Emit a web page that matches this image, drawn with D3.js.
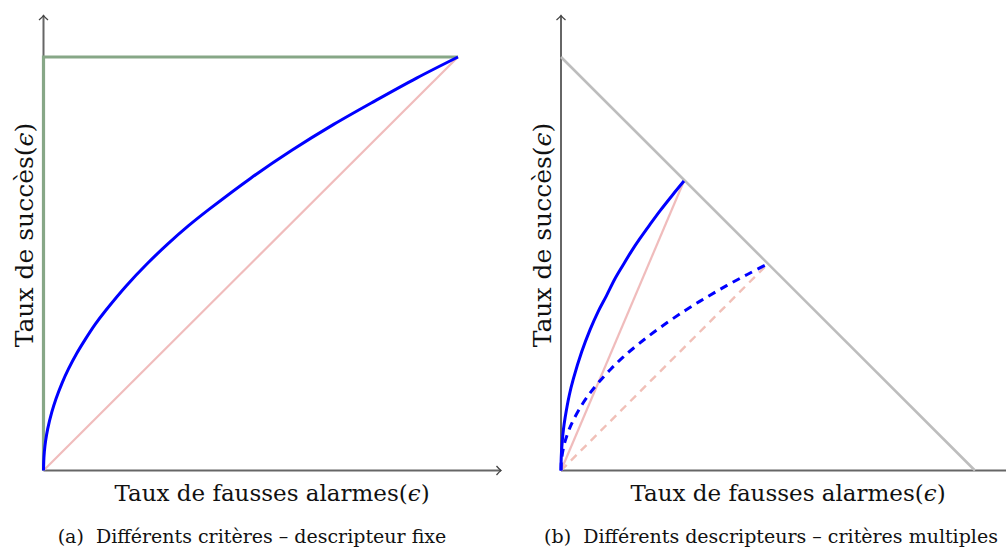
<!DOCTYPE html>
<html><head><meta charset="utf-8">
<script src="https://cdn.jsdelivr.net/npm/d3@7"></script>
<style>
html,body{margin:0;padding:0;background:#fff;}
svg text{font-family:"DejaVu Serif","Liberation Serif",serif;fill:#111;}
</style></head>
<body><svg id="c" width="1006" height="551"></svg>
<script>
// ---- data ----
// Panel (a): different criteria, fixed descriptor
const leftFpr = [0, 0.0005, 0.002, 0.005, 0.01, 0.02, 0.03, 0.045, 0.06, 0.08, 0.1, 0.125, 0.15, 0.2, 0.25, 0.3, 0.35, 0.4, 0.5, 0.6, 0.7, 0.8, 0.9, 1];
const leftTpr = [0, 0.022, 0.045, 0.071, 0.1, 0.141, 0.173, 0.212, 0.245, 0.283, 0.316, 0.354, 0.387, 0.447, 0.5, 0.548, 0.592, 0.632, 0.707, 0.775, 0.837, 0.894, 0.949, 1];
const idealFpr = [0, 0, 1];
const idealTpr = [0, 1, 1];
const chanceFpr = [0, 1];
const chanceTpr = [0, 1];
// Panel (b): different descriptors, multiple criteria
const solidFpr = [0, 0.0003, 0.001, 0.003, 0.006, 0.01, 0.02, 0.03, 0.05, 0.07, 0.09, 0.11, 0.13, 0.15, 0.17, 0.19, 0.215, 0.24, 0.27, 0.297];
const solidTpr = [0, 0.022, 0.041, 0.07, 0.1, 0.128, 0.182, 0.222, 0.287, 0.34, 0.385, 0.423, 0.463, 0.497, 0.53, 0.56, 0.595, 0.629, 0.667, 0.70];
const dashedFpr = [0, 0.0005, 0.002, 0.005, 0.01, 0.02, 0.03, 0.05, 0.07, 0.09, 0.12, 0.15, 0.19, 0.24, 0.3, 0.35, 0.4, 0.45, 0.5];
const dashedTpr = [0, 0.016, 0.032, 0.05, 0.071, 0.1, 0.122, 0.158, 0.187, 0.212, 0.245, 0.274, 0.308, 0.346, 0.387, 0.418, 0.447, 0.474, 0.5];
const boundFpr = [0, 1];
const boundTpr = [1, 0];
const solidChanceFpr = [0, 0.297];
const solidChanceTpr = [0, 0.70];
const dashedChanceFpr = [0, 0.5];
const dashedChanceTpr = [0, 0.5];
const xLabel = "Taux de fausses alarmes";
const yLabel = "Taux de succès";
const captions = ["(a)  Différents critères – descripteur fixe", "(b)  Différents descripteurs – critères multiples"];

const svg = d3.select("#c");
const zip = (xs, ys) => xs.map((x, i) => [x, ys[i]]);

const defs = svg.append("defs");
defs.append("marker").attr("id","arr").attr("viewBox","-6 -6 8 12")
  .attr("markerWidth",8).attr("markerHeight",12).attr("markerUnits","userSpaceOnUse")
  .attr("refX",0).attr("refY",0).attr("orient","auto")
  .append("path").attr("d","M-4.5,-4.5 Q-1.5,-1 0,0 Q-1.5,1 -4.5,4.5")
  .attr("fill","none").attr("stroke","#444").attr("stroke-width",1.3);

function panel(x0, x1, xAxisEnd, cx, cap) {
  const x = d3.scaleLinear().domain([0,1]).range([x0, x1]);
  const y = d3.scaleLinear().domain([0,1]).range([470.5, 57]);
  const g = svg.append("g");
  const line = d3.line().x(d => x(d[0])).y(d => y(d[1]));
  // axes
  g.append("line").attr("x1", x(0)).attr("y1", y(0)).attr("x2", xAxisEnd).attr("y2", y(0))
    .attr("stroke","#666").attr("stroke-width",2).attr("marker-end","url(#arr)");
  g.append("line").attr("x1", x(0)).attr("y1", y(0)).attr("x2", x(0)).attr("y2", 15.5)
    .attr("stroke","#666").attr("stroke-width",2).attr("marker-end","url(#arr)");
  // x label
  const xl = g.append("text").attr("x", cx.xl).attr("y", 501).attr("text-anchor","middle")
    .attr("font-size", 23);
  xl.append("tspan").text(xLabel + "(");
  xl.append("tspan").attr("font-style","italic").text("ϵ");
  xl.append("tspan").text(")");
  // y label
  const yl = g.append("text").attr("transform", `translate(${cx.yl},235) rotate(-90)`)
    .attr("text-anchor","middle").attr("font-size", 25);
  yl.append("tspan").text(yLabel + "(");
  yl.append("tspan").attr("font-style","italic").text("ϵ");
  yl.append("tspan").text(")");
  // caption
  g.append("text").attr("x", cx.cap).attr("y", 543).attr("text-anchor","middle")
    .attr("font-size", 19).attr("xml:space","preserve").style("white-space","pre").text(cap);
  return {g, x, y, line};
}

// Panel (a)
const A = panel(43.5, 458, 501, {xl: 272, yl: 33, cap: 252}, captions[0]);
A.g.append("path").attr("d", A.line(zip(chanceFpr, chanceTpr)))
  .attr("fill","none").attr("stroke","#f0bcbc").attr("stroke-width",2.2);
A.g.append("path").attr("d", A.line(zip(idealFpr, idealTpr)))
  .attr("fill","none").attr("stroke","#87a787").attr("stroke-width",3.2);
A.g.append("path").attr("d", d3.line().x(d => A.x(d[0])).y(d => A.y(d[1])).curve(d3.curveCatmullRom.alpha(0.5))(zip(leftFpr, leftTpr)))
  .attr("fill","none").attr("stroke","#0000ff").attr("stroke-width",3);

// Panel (b)
const B = panel(561, 975, 1016, {xl: 788, yl: 551, cap: 771}, captions[1]);
B.g.append("path").attr("d", B.line(zip(boundFpr, boundTpr)))
  .attr("fill","none").attr("stroke","#bdbdbd").attr("stroke-width",2.6);
B.g.append("path").attr("d", B.line(zip(dashedChanceFpr, dashedChanceTpr)))
  .attr("fill","none").attr("stroke","#f1c0b8").attr("stroke-width",2.4).attr("stroke-dasharray","8,6");
B.g.append("path").attr("d", B.line(zip(solidChanceFpr, solidChanceTpr)))
  .attr("fill","none").attr("stroke","#f0bcbc").attr("stroke-width",2.2);
const curveB = d3.line().x(d => B.x(d[0])).y(d => B.y(d[1])).curve(d3.curveCatmullRom.alpha(0.5));
B.g.append("path").attr("d", curveB(zip(dashedFpr, dashedTpr)))
  .attr("fill","none").attr("stroke","#0000ff").attr("stroke-width",3).attr("stroke-dasharray","8,6");
B.g.append("path").attr("d", curveB(zip(solidFpr, solidTpr)))
  .attr("fill","none").attr("stroke","#0000ff").attr("stroke-width",3);
</script></body></html>
